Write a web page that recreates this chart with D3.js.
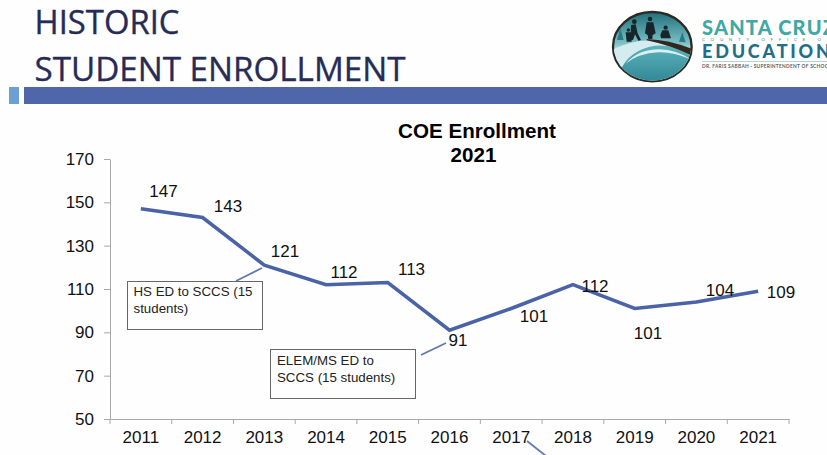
<!DOCTYPE html>
<html><head><meta charset="utf-8">
<script src="https://cdnjs.cloudflare.com/ajax/libs/d3/7.8.5/d3.min.js"></script>
<style>html,body{margin:0;padding:0;background:#fefefe}svg{display:block}</style>
</head><body><svg id="c" width="827" height="455"></svg>
<script>
const years = [2011,2012,2013,2014,2015,2016,2017,2018,2019,2020,2021];
const enrollment = [147,143,121,112,113,91,101,112,101,104,109];
const yTicks = [50,70,90,110,130,150,170];
const titleLines = ["HISTORIC","STUDENT ENROLLMENT"];
const chartTitle = ["COE Enrollment","2021"];
const notes = [["HS ED to SCCS (15","students)"],["ELEM/MS ED to","SCCS (15 students)"]];

// layout, separate from the data
const labelCentres = [[163.5,191],[228,205.5],[285,251],[344,272],[411.5,269],[458,340],[534,316],[595,285.5],[648,333],[720,290],[781,291.5]];
const noteBoxes = [{x:127,y:281,w:135,h:48,tx:133.5,ty:296},{x:270,y:349,w:145,h:49,tx:277,ty:365}];
const leaders = [[236,281,262,268],[421,355,446,343],[527,441,546,456]];
const chartTitleX = [477,473.5];

const svg = d3.select("#c");
const x = d3.scaleBand().domain(years).range([110,789]);
const y = d3.scaleLinear().domain([50,170]).range([419,159]);
const sans = "'Liberation Sans',Arial,sans-serif";

// header
svg.append("g").selectAll("text").data(titleLines).join("text")
  .attr("x",34.5).attr("y",(d,i)=>34+i*46.5)
  .attr("font-family","'Open Sans',sans-serif").attr("font-size",33)
  .attr("fill","#262c56").attr("stroke","#262c56").attr("stroke-width",0.35).text(d=>d)
  .attr("textLength",(d,i)=>i?371:145).attr("lengthAdjust","spacingAndGlyphs");
svg.append("rect").attr("x",9).attr("y",87).attr("width",10).attr("height",17).attr("fill","#6c9fd2");
svg.append("rect").attr("x",24).attr("y",87).attr("width",803).attr("height",17).attr("fill","#4f66ab");

// logo, drawn in the crop's own 3x grid
const defs = svg.append("defs");
const g1 = defs.append("linearGradient").attr("id","sky").attr("x1",0).attr("y1",0).attr("x2",0).attr("y2",1);
g1.append("stop").attr("offset","0").attr("stop-color","#1f6f7a");
g1.append("stop").attr("offset","0.45").attr("stop-color","#7cc0c6");
g1.append("stop").attr("offset","0.6").attr("stop-color","#d7eef0");
const g2 = defs.append("linearGradient").attr("id","sea").attr("x1",0).attr("y1",0).attr("x2",0).attr("y2",1);
g2.append("stop").attr("offset","0").attr("stop-color","#5db3bb");
g2.append("stop").attr("offset","1").attr("stop-color","#2d8492");
defs.append("clipPath").attr("id","oval").append("ellipse").attr("cx",142).attr("cy",125).attr("rx",116).attr("ry",102);
const logo = svg.append("g");
const lg = logo.append("g").attr("transform","translate(605,5) scale(0.3333)");
lg.append("ellipse").attr("cx",142).attr("cy",125).attr("rx",118).attr("ry",104).attr("fill","url(#sky)").attr("stroke","#2a2a22").attr("stroke-width",7);
const inner = lg.append("g").attr("clip-path","url(#oval)");
inner.append("path").attr("d","M20 135 Q90 100 150 108 Q220 115 265 140 L265 240 L20 240Z").attr("fill","#d4ecef");
inner.append("path").attr("d","M45 200 Q70 135 150 122 Q210 118 265 150 L265 240 L30 240Z").attr("fill","url(#sea)");
inner.append("path").attr("d","M62 176 Q100 132 165 133 Q215 135 262 165 Q205 140 160 142 Q100 145 62 176Z").attr("fill","#d9f0f2");
inner.append("path").attr("d","M125 102 Q195 105 262 132 L262 152 Q200 122 125 106Z").attr("fill","#33271d");
const ink = "#17262b";
["M36 105 L46 70 L56 105Z","M222 110 L232 82 L242 112Z"].forEach(d=>inner.append("path").attr("d",d).attr("fill","#2a7a86"));
["M78 60 L92 58 L98 85 L108 105 L100 107 L90 88 L84 105 L76 105Z",
 "M62 82 L78 82 L80 110 L65 110Z",
 "M125 52 L145 52 L152 85 L143 90 L142 102 L130 102 L128 90 L120 85Z",
 "M172 76 L190 76 L198 100 L168 100 L166 90Z"].forEach(d=>inner.append("path").attr("d",d).attr("fill",ink));
[[88,50,7],[70,75,5],[135,42,7],[182,68,6.5]].forEach(([cx,cy,r])=>inner.append("circle").attr("cx",cx).attr("cy",cy).attr("r",r).attr("fill",ink));

const logoText = [
  {t:"SANTA CRUZ",y:35,s:20,c:"#3fa9a4",w:900,ls:1.2},
  {t:"COUNTY OFFICE OF",y:41,s:4.6,c:"#3c8f95",w:400,ls:5.6},
  {t:"EDUCATION",y:58,s:18,c:"#1f6f8c",w:900,ls:2.8},
  {t:"DR. FARIS SABBAH · SUPERINTENDENT OF SCHOOLS",y:68,s:4.8,c:"#555f66",w:700,ls:0.3}
];
logo.selectAll("text").data(logoText).join("text")
  .attr("x",702).attr("y",d=>d.y).attr("font-family","Lato,sans-serif")
  .attr("font-size",d=>d.s).attr("font-weight",d=>d.w).attr("fill",d=>d.c)
  .attr("letter-spacing",d=>d.ls).text(d=>d.t);
logo.append("line").attr("x1",702).attr("x2",827).attr("y1",61.5).attr("y2",61.5).attr("stroke","#7fb5b8").attr("stroke-width",0.6);

// chart title
svg.append("g").selectAll("text").data(chartTitle).join("text")
  .attr("x",(d,i)=>chartTitleX[i]).attr("y",(d,i)=>137.5+i*24.7).attr("text-anchor","middle")
  .attr("font-family",sans).attr("font-size",20.6).attr("font-weight",700).attr("fill","#000").text(d=>d);

// axes
const axisColor = "#a8a8a8";
const gy = svg.append("g").attr("transform","translate(110,0)")
  .call(d3.axisLeft(y).tickValues(yTicks).tickSize(6).tickSizeOuter(0).tickPadding(10));
const gx = svg.append("g").attr("transform","translate(0,419)")
  .call(d3.axisBottom(x).tickSize(0).tickPadding(12));
gx.selectAll(".tick line").remove();
gx.selectAll(".bt").data([...years.map(d=>x(d)),789]).join("line").attr("class","bt")
  .attr("x1",d=>d).attr("x2",d=>d).attr("y1",0).attr("y2",5).attr("stroke",axisColor);
[gy,gx].forEach(g=>{
  g.selectAll("path,line").attr("stroke",axisColor);
  g.selectAll("text").attr("font-family",sans).attr("font-size",17).attr("fill","#111");
});

// series
const line = d3.line().x((d,i)=>x(years[i])+x.bandwidth()/2).y(d=>y(d));
svg.append("path").datum(enrollment).attr("d",line).attr("fill","none")
  .attr("stroke","#4a62a6").attr("stroke-width",3.5).attr("stroke-linejoin","miter");

// value labels
svg.append("g").selectAll("text").data(enrollment).join("text")
  .attr("x",(d,i)=>labelCentres[i][0]).attr("y",(d,i)=>labelCentres[i][1]+6)
  .attr("text-anchor","middle").attr("font-family",sans).attr("font-size",17).attr("fill","#111").text(d=>d);

// callouts
svg.append("g").selectAll("line").data(leaders).join("line")
  .attr("x1",d=>d[0]).attr("y1",d=>d[1]).attr("x2",d=>d[2]).attr("y2",d=>d[3])
  .attr("stroke","#6478b0").attr("stroke-width",1.8);
const nb = svg.append("g").selectAll("g").data(noteBoxes).join("g");
nb.append("rect").attr("x",d=>d.x+.5).attr("y",d=>d.y+.5).attr("width",d=>d.w).attr("height",d=>d.h)
  .attr("fill","none").attr("stroke","#666").attr("stroke-width",1);
nb.each(function(d,i){
  d3.select(this).selectAll("text").data(notes[i]).join("text")
    .attr("x",d.tx).attr("y",(t,j)=>d.ty+j*17)
    .attr("font-family",sans).attr("font-size",13.3).attr("fill","#222").text(t=>t);
});
</script></body></html>
